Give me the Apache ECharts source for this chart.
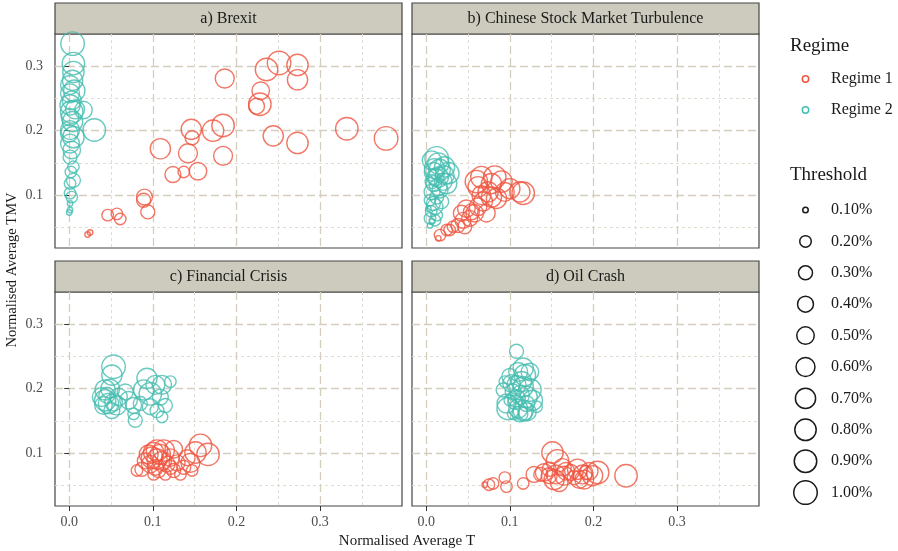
<!DOCTYPE html>
<html>
<head>
<meta charset="utf-8">
<script src="https://cdn.jsdelivr.net/npm/echarts@6/dist/echarts.min.js"></script>
<style>
  html, body { margin: 0; padding: 0; background: #fff; }
  #chart { width: 898px; height: 551px; }
</style>
</head>
<body>
<div id="chart"></div>
<script>
// each point: [normalised average T, normalised average TMV, threshold %]
const brexitR1 = [
  [0.022,0.039,0.1],[0.025,0.042,0.1],[0.046,0.069,0.2],[0.057,0.071,0.2],[0.061,0.063,0.2],
  [0.090,0.097,0.4],[0.089,0.092,0.3],[0.094,0.074,0.3],[0.109,0.172,0.7],[0.124,0.132,0.4],
  [0.137,0.136,0.2],[0.154,0.137,0.5],[0.142,0.165,0.6],[0.147,0.189,0.3],[0.146,0.202,0.7],
  [0.172,0.200,0.8],[0.184,0.208,0.9],[0.184,0.161,0.6],[0.186,0.281,0.6],[0.229,0.262,0.5],
  [0.224,0.238,0.4],[0.228,0.241,0.9],[0.236,0.295,0.9],[0.251,0.305,1.0],[0.273,0.302,0.8],
  [0.273,0.279,0.7],[0.244,0.192,0.7],[0.273,0.181,0.8],[0.332,0.203,0.9],[0.379,0.188,1.0]
];
const brexitR2 = [
  [0.004,0.335,1.0],[0.005,0.304,0.9],[0.005,0.291,0.8],[0.004,0.278,0.7],[0.001,0.271,0.6],
  [0.001,0.258,0.6],[0.003,0.247,0.6],[0.001,0.240,0.7],[0.003,0.229,0.9],[0.017,0.232,0.5],
  [0.030,0.201,0.9],[0.001,0.221,0.5],[0.004,0.214,0.7],[0.001,0.201,0.6],[0.005,0.190,0.8],
  [0.001,0.180,0.6],[0.003,0.170,0.5],[0.001,0.159,0.3],[0.005,0.144,0.2],[0.002,0.136,0.2],
  [0.005,0.123,0.3],[0.001,0.118,0.2],[0.001,0.103,0.2],[0.003,0.097,0.2],[0.001,0.087,0.1],
  [0.001,0.077,0.1],[0.000,0.073,0.1],[0.000,0.196,0.5],[0.007,0.233,0.6],[0.006,0.262,0.8]
];
const chinaR1 = [
  [0.0145,0.033,0.1],[0.0165,0.038,0.2],[0.0245,0.046,0.2],[0.028,0.046,0.2],[0.038,0.053,0.3],
  [0.044,0.061,0.4],[0.042,0.072,0.4],[0.052,0.064,0.4],[0.048,0.079,0.5],[0.054,0.074,0.4],
  [0.058,0.072,0.5],[0.062,0.082,0.5],[0.068,0.090,0.6],[0.066,0.100,0.6],[0.078,0.097,0.7],
  [0.074,0.105,0.7],[0.084,0.095,0.7],[0.060,0.121,0.9],[0.066,0.128,0.8],[0.082,0.128,0.9],
  [0.078,0.118,0.7],[0.090,0.121,0.8],[0.100,0.110,0.7],[0.112,0.105,0.7],[0.116,0.103,0.9],
  [0.094,0.105,0.6],[0.072,0.072,0.5],[0.046,0.051,0.3],[0.032,0.051,0.2],[0.062,0.113,0.7]
];
const chinaR2 = [
  [0.0125,0.157,1.0],[0.0145,0.149,0.8],[0.010,0.141,0.7],[0.016,0.139,0.8],[0.022,0.131,0.6],
  [0.011,0.128,0.5],[0.009,0.118,0.4],[0.0145,0.113,0.5],[0.007,0.105,0.4],[0.0125,0.097,0.3],
  [0.0085,0.087,0.3],[0.0105,0.082,0.4],[0.006,0.075,0.2],[0.0125,0.069,0.2],[0.0045,0.064,0.2],
  [0.007,0.059,0.1],[0.0045,0.053,0.1],[0.022,0.144,0.7],[0.0066,0.154,0.6],[0.0205,0.121,0.5],
  [0.0165,0.108,0.4],[0.0045,0.092,0.2],[0.0185,0.090,0.3],[0.0145,0.128,0.7],[0.009,0.136,0.6],
  [0.0026,0.079,0.1],[0.0105,0.061,0.2],[0.0265,0.134,0.8],[0.0245,0.118,0.7],[0.007,0.121,0.3]
];
const crisisR1 = [
  [0.081,0.073,0.2],[0.087,0.075,0.3],[0.101,0.101,0.7],[0.099,0.093,0.8],[0.105,0.091,0.7],
  [0.097,0.083,0.5],[0.103,0.078,0.4],[0.109,0.098,0.7],[0.111,0.088,0.6],[0.107,0.073,0.3],
  [0.117,0.083,0.4],[0.121,0.093,0.5],[0.125,0.073,0.3],[0.129,0.085,0.4],[0.133,0.067,0.2],
  [0.137,0.078,0.3],[0.141,0.093,0.4],[0.147,0.073,0.2],[0.151,0.101,0.8],[0.157,0.112,0.9],
  [0.166,0.098,0.9],[0.145,0.085,0.6],[0.095,0.098,0.6],[0.113,0.104,0.8],[0.105,0.104,0.8],
  [0.125,0.106,0.5],[0.091,0.088,0.4],[0.115,0.067,0.2],[0.101,0.067,0.2],[0.121,0.078,0.3]
];
const crisisR2 = [
  [0.053,0.234,1.0],[0.051,0.221,0.7],[0.043,0.198,0.7],[0.049,0.200,0.6],[0.039,0.187,0.6],
  [0.043,0.182,0.8],[0.047,0.177,0.7],[0.053,0.179,0.5],[0.057,0.174,0.6],[0.041,0.174,0.5],
  [0.051,0.166,0.4],[0.059,0.187,0.5],[0.045,0.190,0.4],[0.071,0.182,0.5],[0.077,0.174,0.4],
  [0.079,0.151,0.3],[0.077,0.161,0.2],[0.093,0.216,0.7],[0.089,0.198,0.7],[0.097,0.192,0.9],
  [0.103,0.206,0.6],[0.111,0.206,0.6],[0.121,0.211,0.2],[0.109,0.187,0.4],[0.097,0.172,0.4],
  [0.115,0.174,0.3],[0.111,0.156,0.2],[0.105,0.166,0.3],[0.085,0.177,0.3],[0.067,0.195,0.4]
];
const oilR1 = [
  [0.075,0.051,0.2],[0.080,0.053,0.2],[0.094,0.062,0.2],[0.096,0.048,0.2],[0.116,0.053,0.2],
  [0.129,0.067,0.4],[0.137,0.067,0.3],[0.151,0.101,0.8],[0.157,0.088,0.9],[0.153,0.059,0.7],
  [0.155,0.067,0.6],[0.147,0.065,0.4],[0.167,0.072,0.5],[0.165,0.065,0.6],[0.173,0.070,0.4],
  [0.181,0.075,0.7],[0.187,0.067,0.6],[0.183,0.059,0.5],[0.189,0.059,0.6],[0.195,0.072,0.5],
  [0.191,0.070,0.3],[0.205,0.070,0.9],[0.239,0.065,0.9],[0.141,0.070,0.5],[0.163,0.078,0.5],
  [0.177,0.062,0.3],[0.159,0.054,0.5],[0.199,0.065,0.7],[0.147,0.075,0.3],[0.070,0.051,0.1]
];
const oilR2 = [
  [0.108,0.258,0.3],[0.116,0.232,0.7],[0.118,0.221,0.8],[0.110,0.226,0.6],[0.094,0.211,0.2],
  [0.102,0.208,0.5],[0.108,0.206,0.6],[0.116,0.203,0.7],[0.124,0.198,0.9],[0.104,0.195,0.4],
  [0.112,0.190,0.6],[0.120,0.187,0.8],[0.096,0.177,0.6],[0.098,0.169,0.9],[0.110,0.169,0.6],
  [0.116,0.166,0.7],[0.112,0.161,0.4],[0.121,0.164,0.5],[0.132,0.172,0.2],[0.106,0.179,0.3],
  [0.100,0.219,0.4],[0.092,0.198,0.3],[0.114,0.211,0.7],[0.127,0.182,0.7],[0.108,0.185,0.5],
  [0.118,0.161,0.3],[0.104,0.161,0.2],[0.124,0.226,0.5],[0.100,0.182,0.2],[0.120,0.177,0.4]
];

const panelTitles = ["a) Brexit", "b) Chinese Stock Market Turbulence", "c) Financial Crisis", "d) Oil Crash"];
const regimeNames = ["Regime 1", "Regime 2"];
const thresholds = [0.1, 0.2, 0.3, 0.4, 0.5, 0.6, 0.7, 0.8, 0.9, 1.0];
const thresholdLabels = ["0.10%", "0.20%", "0.30%", "0.40%", "0.50%", "0.60%", "0.70%", "0.80%", "0.90%", "1.00%"];
const xMajorTicks = [0, 0.1, 0.2, 0.3];
const xMinorTicks = [0.05, 0.15, 0.25, 0.35];
const yMajorTicks = [0.1, 0.2, 0.3];
const yMinorTicks = [0.05, 0.15, 0.25];

const panelData = [
  [brexitR1, brexitR2],
  [chinaR1, chinaR2],
  [crisisR1, crisisR2],
  [oilR1, oilR2],
];

const colors = ["#ef5540", "#45bdb0"];
const font = "Liberation Serif";
const xRange = [-0.017, 0.398];
const yRange = [0.018, 0.35];

// panel layout (plot area, strip sits above it)
const panels = [
  { left: 55, top: 34 },
  { left: 412, top: 34 },
  { left: 55, top: 292 },
  { left: 412, top: 292 },
];
const panelW = 347, panelH = 214, stripH = 31;

const sizeOf = (t) => 5.5 + 18 * Math.sqrt((t - 0.1) / 0.9);

const majorLine = { show: true, lineStyle: { color: "#d5cebe", width: 1.3, type: [8, 4] } };
const minorLine = { show: true, lineStyle: { color: "#e2ddd2", width: 1, type: [3, 3] } };

const grids = [], xAxes = [], yAxes = [], series = [], graphics = [];

panels.forEach((p, i) => {
  grids.push({
    left: p.left, top: p.top, width: panelW, height: panelH,
    show: true, backgroundColor: "#fff", borderColor: "#454545", borderWidth: 1.2,
  });
  const bottomRow = i >= 2, leftCol = i % 2 === 0;
  xAxes.push({
    type: "value", gridIndex: i, min: xRange[0], max: xRange[1],
    axisLine: { show: false },
    axisTick: { show: bottomRow, customValues: xMajorTicks, length: 5, lineStyle: { color: "#333" } },
    axisLabel: {
      show: bottomRow, customValues: xMajorTicks, margin: 9,
      color: "#4d4d4d", fontSize: 14, fontFamily: font,
      formatter: (v) => v.toFixed(1),
    },
    splitLine: majorLine,
  });
  xAxes.push({
    type: "value", gridIndex: i, min: xRange[0], max: xRange[1],
    axisLine: { show: false },
    axisTick: { show: false, customValues: xMinorTicks },
    axisLabel: { show: false },
    splitLine: minorLine,
  });
  yAxes.push({
    type: "value", gridIndex: i, min: yRange[0], max: yRange[1],
    axisLine: { show: false },
    axisTick: { show: leftCol, customValues: yMajorTicks, length: 5, lineStyle: { color: "#333" } },
    axisLabel: {
      show: leftCol, customValues: yMajorTicks, margin: 12,
      color: "#4d4d4d", fontSize: 14, fontFamily: font,
      formatter: (v) => v.toFixed(1),
    },
    splitLine: majorLine,
  });
  yAxes.push({
    type: "value", gridIndex: i, min: yRange[0], max: yRange[1],
    axisLine: { show: false },
    axisTick: { show: false, customValues: yMinorTicks },
    axisLabel: { show: false },
    splitLine: minorLine,
  });

  panelData[i].forEach((d, r) => {
    series.push({
      name: regimeNames[r],
      type: "scatter",
      xAxisIndex: 2 * i, yAxisIndex: 2 * i,
      data: d,
      symbol: "circle",
      symbolSize: (val) => sizeOf(val[2]),
      itemStyle: { color: "rgba(0,0,0,0)", borderColor: colors[r], borderWidth: 1.4 },
      emphasis: { disabled: true },
      silent: true,
    });
  });

  // facet strip
  graphics.push({
    type: "rect",
    shape: { x: p.left, y: p.top - stripH, width: panelW, height: stripH },
    style: { fill: "#cdcbbd", stroke: "#454545", lineWidth: 1.2 },
  });
  graphics.push({
    type: "text",
    style: {
      text: panelTitles[i], x: p.left + panelW / 2, y: p.top - stripH / 2,
      textAlign: "center", textVerticalAlign: "middle", align: "center", verticalAlign: "middle",
      fontSize: 16, fontFamily: font, fill: "#1a1a1a",
    },
  });
});

// axis titles
graphics.push({
  type: "text",
  style: {
    text: "Normalised Average T", x: 407, y: 541,
    textAlign: "center", textVerticalAlign: "middle", align: "center", verticalAlign: "middle",
    fontSize: 15, fontFamily: font, fill: "#1a1a1a",
  },
});
graphics.push({
  type: "text", x: 12, y: 270, rotation: Math.PI / 2,
  style: {
    text: "Normalised Average TMV", x: 0, y: 0,
    textAlign: "center", textVerticalAlign: "middle", align: "center", verticalAlign: "middle",
    fontSize: 14.5, fontFamily: font, fill: "#1a1a1a",
  },
});

// legends
const legendTitle = (text, y) => ({
  type: "text",
  style: { text, x: 790, y, textVerticalAlign: "middle", verticalAlign: "middle", fontSize: 19, fontFamily: font, fill: "#1a1a1a" },
});
const legendLabel = (text, y) => ({
  type: "text",
  style: { text, x: 831, y, textVerticalAlign: "middle", verticalAlign: "middle", fontSize: 16, fontFamily: font, fill: "#1a1a1a" },
});
graphics.push(legendTitle("Regime", 46));
regimeNames.forEach((n, r) => {
  const y = 79 + r * 31;
  graphics.push({ type: "circle", shape: { cx: 805.5, cy: y, r: 3.2 }, style: { fill: "none", stroke: colors[r], lineWidth: 1.5 } });
  graphics.push(legendLabel(n, y));
});
graphics.push(legendTitle("Threshold", 175));
thresholds.forEach((t, k) => {
  const y = 210 + k * 31.4;
  graphics.push({ type: "circle", shape: { cx: 805.5, cy: y, r: sizeOf(t) / 2 }, style: { fill: "none", stroke: "#1a1a1a", lineWidth: 1.5 } });
  graphics.push(legendLabel(thresholdLabels[k], y));
});

const chart = echarts.init(document.getElementById("chart"));
chart.setOption({
  backgroundColor: "#fff",
  animation: false,
  grid: grids,
  xAxis: xAxes,
  yAxis: yAxes,
  series: series,
  graphic: graphics,
});
</script>
</body>
</html>
